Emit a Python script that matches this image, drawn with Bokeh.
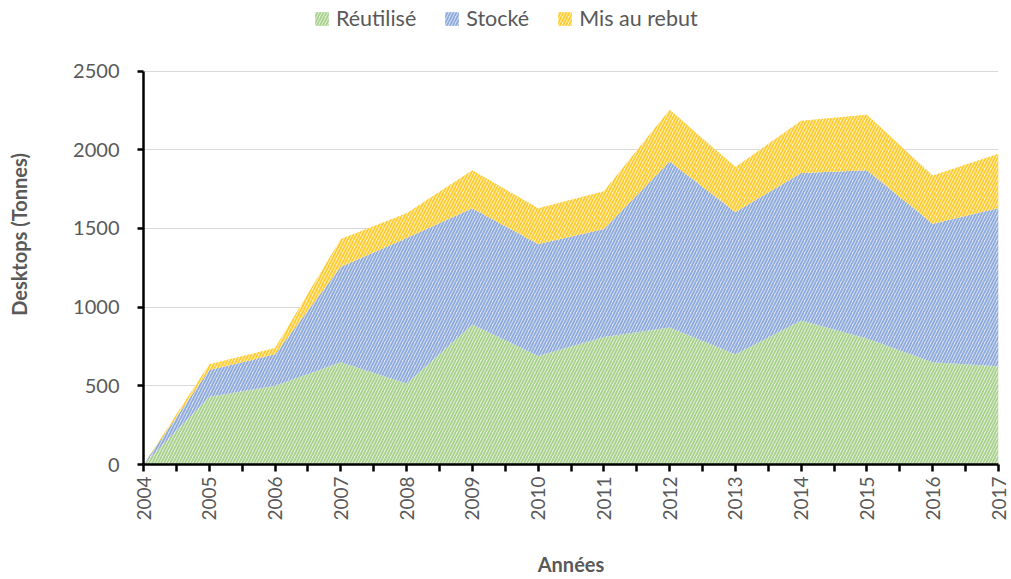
from bokeh.plotting import figure
from bokeh.models import ColumnDataSource, Range1d, FixedTicker, Legend, LegendItem
from bokeh.embed import file_html
from bokeh.resources import INLINE

years = list(range(2004, 2018))
reutilise = [0, 430, 500, 650, 515, 890, 690, 810, 870, 700, 915, 800, 650, 625]
stocke = [0, 170, 200, 606, 925, 739, 711, 686, 1055, 905, 938, 1070, 880, 1005]
rebut = [0, 37, 40, 177, 157, 240, 228, 240, 329, 285, 331, 352, 307, 345]
labels = ["Réutilisé", "Stocké", "Mis au rebut"]
y_ticks = [0, 500, 1000, 1500, 2000, 2500]
y_max = 2500

source = ColumnDataSource(dict(x=years, reutilise=reutilise, stocke=stocke, rebut=rebut))

FONT = "Lato"
GREY = "#595959"

W, H = 1011, 578
LEFT, RIGHT, TOP, BOTTOM = 143, 13, 4, 111
AXIS_TOP = 71                       # pixel row where y_max should sit
frame_h = H - TOP - BOTTOM
plot_h = H - BOTTOM - AXIS_TOP
y_end = y_max * frame_h / plot_h    # extra headroom above y_max holds the legend

p = figure(width=W, height=H, x_range=Range1d(2004, 2017), y_range=Range1d(0, y_end),
           output_backend="svg", toolbar_location=None,
           min_border_left=LEFT, min_border_right=RIGHT, min_border_top=TOP, min_border_bottom=BOTTOM)
p.outline_line_color = None
p.background_fill_color = "white"

rs = p.varea_stack(["reutilise", "stocke", "rebut"], x="x", source=source,
                   fill_color=["#e2f0d9", "#dae3f3", "#fff0b8"],
                   hatch_color=["#a9d18e", "#8eaadb", "#ffcc33"],
                   hatch_pattern="/", hatch_scale=6, hatch_weight=1.8)

p.xgrid.visible = False
p.ygrid.grid_line_color = "#d9d9d9"
p.ygrid.grid_line_width = 1

p.xaxis.ticker = FixedTicker(ticks=years, minor_ticks=[y + 0.5 for y in years[:-1]])
p.yaxis.ticker = FixedTicker(ticks=y_ticks)
p.yaxis.bounds = (0, y_max)

for ax in (p.xaxis[0], p.yaxis[0]):
    ax.axis_line_color = "black"
    ax.axis_line_width = 2.5
    ax.major_tick_line_color = "black"
    ax.major_tick_line_width = 2.5
    ax.minor_tick_line_color = "black"
    ax.minor_tick_line_width = 2.5
    ax.major_tick_in = 0
    ax.minor_tick_in = 0
    ax.major_label_text_font = FONT
    ax.major_label_text_color = GREY
    ax.axis_label_text_font = FONT
    ax.axis_label_text_font_style = "bold"
    ax.axis_label_text_color = GREY
    ax.axis_label_text_font_size = "20px"

p.xaxis.major_tick_out = 7
p.xaxis.minor_tick_out = 7
p.xaxis.major_label_orientation = 1.5708
p.xaxis.major_label_text_font_size = "19px"
p.xaxis.major_label_standoff = 5
p.xaxis.axis_label = "Années"
p.xaxis.axis_label_standoff = 28

p.yaxis.major_tick_out = 6
p.yaxis.minor_tick_out = 0
p.yaxis.major_label_text_font_size = "20px"
p.yaxis.major_label_standoff = 18
p.yaxis.axis_label = "Desktops (Tonnes)"
p.yaxis.axis_label_standoff = 39

legend = Legend(items=[LegendItem(label=labels[i], renderers=[rs[i]]) for i in range(3)],
                orientation="horizontal", location=(170, frame_h - 30),
                glyph_width=17, glyph_height=17, label_standoff=6, spacing=27,
                padding=0, margin=0, border_line_color=None, background_fill_alpha=0,
                label_text_font=FONT, label_text_font_size="21.5px", label_text_color=GREY)
p.add_layout(legend)

open("out.html", "w").write(file_html(p, INLINE))
